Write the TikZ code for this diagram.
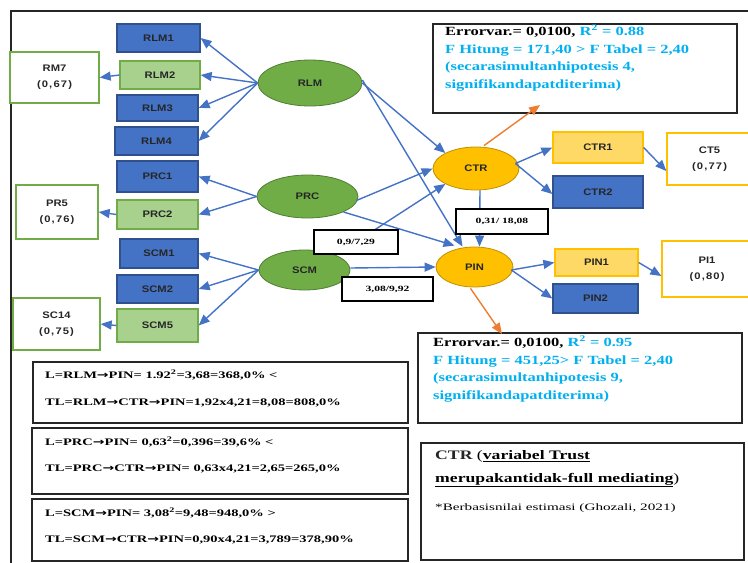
\documentclass[tikz,border=0pt]{standalone}
\usepackage{fontspec}
\setmainfont{Liberation Serif}
\newfontfamily\nodefont[FakeStretch=1.18]{Liberation Sans}
\newfontfamily\wideserif[FakeStretch=1.45]{Liberation Serif}
\newfontfamily\notefont[FakeStretch=1.55]{Liberation Serif}
\newfontfamily\errfont[FakeStretch=1.32]{Liberation Serif}
\newfontfamily\ctrfont[FakeStretch=1.36]{Liberation Serif}
\newfontfamily\arrowfont[FakeStretch=1.4]{DejaVu Sans}
\newcommand{\rar}{{\arrowfont\bfseries\fontsize{10}{10}\selectfont→}}
\usetikzlibrary{arrows.meta,shapes.geometric}
\definecolor{blu}{HTML}{4472C4}
\definecolor{bluedge}{HTML}{2F528F}
\definecolor{grnfill}{HTML}{A9D18E}
\definecolor{grnedge}{HTML}{70AD47}
\definecolor{ellgrn}{HTML}{70AD47}
\definecolor{ellgrnedge}{HTML}{507E32}
\definecolor{orfill}{HTML}{FFC000}
\definecolor{oredge}{HTML}{BF9000}
\definecolor{lorfill}{HTML}{FFD966}
\definecolor{orarrow}{HTML}{ED7D31}
\definecolor{cyantext}{HTML}{00B0F0}
\definecolor{darktext}{HTML}{262626}
\begin{document}
\begin{tikzpicture}[x=1pt,y=-1pt,
  lbl/.style={font=\nodefont\bfseries\fontsize{9.5}{11}\selectfont, text=darktext},
  bluebox/.style={draw=bluedge, line width=1.3pt, fill=blu, lbl, inner sep=0pt},
  grnbox/.style={draw=grnedge, line width=1.3pt, fill=grnfill, lbl, inner sep=0pt},
  orbox/.style={draw=orfill, line width=1.3pt, fill=lorfill, lbl, inner sep=0pt},
  gwbox/.style={draw=grnedge, line width=1.3pt, fill=white, lbl, inner sep=0pt, align=center},
  owbox/.style={draw=orfill, line width=1.3pt, fill=white, lbl, inner sep=0pt, align=center},
  gell/.style={ellipse, draw=ellgrnedge, line width=0.8pt, fill=ellgrn, lbl, inner sep=0pt},
  oell/.style={ellipse, draw=oredge, line width=0.8pt, fill=orfill, lbl, inner sep=0pt},
  frame/.style={draw=black!85, line width=1.4pt, fill=white, inner sep=0pt},
  coef/.style={draw=black, line width=1.3pt, fill=white, inner sep=0pt, font=\wideserif\bfseries\fontsize{8}{9}\selectfont},
  arr/.style={draw=blu, line width=1.4pt, -{Triangle[length=11pt,width=9pt]}},
  oarr/.style={draw=orarrow, line width=1.4pt, -{Triangle[length=11pt,width=9pt]}},
  etxt/.style={anchor=north west, align=left, inner sep=0pt, font=\errfont\bfseries\fontsize{12.5}{17.8}\selectfont},
  ltxt/.style={anchor=west, inner sep=0pt, font=\wideserif\bfseries\fontsize{10}{11}\selectfont}
]
\useasboundingbox (0,0) rectangle (748,563);
% outer frame
\coordinate (ftop) at (748,11);
\coordinate (fcorner) at (11,11);
\coordinate (fbot) at (11,566);
\draw[black!85, line width=1.5pt] (ftop) -- (fcorner) -- (fbot);

% indicator boxes
\node[bluebox, minimum width=83, minimum height=28] (rlm1) at (158.5,38) {RLM1};
\node[grnbox,  minimum width=80, minimum height=28] (rlm2) at (160,75) {RLM2};
\node[bluebox, minimum width=81, minimum height=26] (rlm3) at (157.5,108) {RLM3};
\node[bluebox, minimum width=83, minimum height=28] (rlm4) at (156.5,141) {RLM4};
\node[bluebox, minimum width=81, minimum height=31] (prc1) at (157.5,176.5) {PRC1};
\node[grnbox,  minimum width=81, minimum height=29] (prc2) at (157.5,214.5) {PRC2};
\node[bluebox, minimum width=78, minimum height=29] (scm1) at (159,253.5) {SCM1};
\node[bluebox, minimum width=81, minimum height=28] (scm2) at (157.5,289) {SCM2};
\node[grnbox,  minimum width=81, minimum height=33] (scm5) at (157.5,325.5) {SCM5};

\node[gwbox, minimum width=89, minimum height=51] (rm7) at (54.5,77.5) {RM7\\[5pt]\addfontfeature{LetterSpace=12}(0,67)};
\node[gwbox, minimum width=82, minimum height=54] (pr5) at (57,212) {PR5\\[5pt]\addfontfeature{LetterSpace=12}(0,76)};
\node[gwbox, minimum width=87, minimum height=52] (sc14) at (56.5,324) {SC14\\[5pt]\addfontfeature{LetterSpace=12}(0,75)};

% latent variables
\node[gell, minimum width=104, minimum height=46] (rlm) at (310,83) {RLM};
\node[gell, minimum width=101, minimum height=43] (prc) at (307.5,196.5) {PRC};
\node[gell, minimum width=91, minimum height=40] (scm) at (304.5,270) {SCM};
\node[oell, minimum width=86, minimum height=43] (ctr) at (476,168.5) {CTR};
\node[oell, minimum width=77, minimum height=40] (pin) at (474.5,267) {PIN};

% right indicators
\node[orbox, minimum width=90, minimum height=31] (ctr1) at (598,147.5) {CTR1};
\node[bluebox, minimum width=90, minimum height=32] (ctr2) at (598,192) {CTR2};
\node[orbox, minimum width=83, minimum height=27] (pin1) at (596.5,262.5) {PIN1};
\node[bluebox, minimum width=85, minimum height=29] (pin2) at (595.5,298.5) {PIN2};
\node[owbox, minimum width=85, minimum height=52] (ct5) at (709.5,159) {CT5\\[5pt]\addfontfeature{LetterSpace=12}(0,77)};
\node[owbox, minimum width=90, minimum height=56] (pi1) at (707,269) {PI1\\[5pt]\addfontfeature{LetterSpace=12}(0,80)};

% arrows left side
\draw[arr] (rlm.west) -- (rlm1.east);
\draw[arr] (rlm.west) -- (rlm2.east);
\draw[arr] (rlm.west) -- (rlm3.east);
\draw[arr] (rlm.west) -- (rlm4.east);
\draw[arr] (rlm2.west) -- (rm7.east);
\draw[arr] (prc.west) -- (prc1.east);
\draw[arr] (prc.west) -- (prc2.east);
\draw[arr] (prc2.west) -- (pr5.east);
\draw[arr] (scm.west) -- (scm1.east);
\draw[arr] (scm.west) -- (scm2.east);
\draw[arr] (scm.west) -- (scm5.east);
\draw[arr] (scm5.west) -- (sc14.east);

% structural arrows
\draw[arr] (rlm.east) -- (ctr.north west);
\draw[arr] ([yshift=3pt]rlm.east) -- ([xshift=-12pt]pin.north);
\draw[arr] ([xshift=-2pt,yshift=-4pt]prc.east) -- (ctr.west);
\draw[arr] (prc.south east) -- ([xshift=-20pt,yshift=1pt]pin.north);
\draw[arr] ([xshift=-2pt]scm.north east) -- (ctr.south west);
\draw[arr] ([yshift=2pt]scm.east) -- (pin.west);
\draw[arr] ([xshift=4pt]ctr.south) -- ([xshift=5pt]pin.north);

% right arrows
\draw[arr] ([xshift=-4pt,yshift=5pt]ctr.east) -- (ctr1.west);
\draw[arr] ([xshift=-4pt,yshift=5pt]ctr.east) -- ([yshift=-2pt]ctr2.west);
\draw[arr] (ctr1.east) -- ([yshift=-12pt]ct5.west);
\draw[arr] ([xshift=-2pt,yshift=-3pt]pin.east) -- (pin1.west);
\draw[arr] ([xshift=-2pt,yshift=-3pt]pin.east) -- (pin2.west);
\draw[arr] (pin1.east) -- ([yshift=-7pt]pi1.west);

% coefficient labels
\node[coef, minimum width=84, minimum height=24] (c1) at (356,242) {0,9/7,29};
\node[coef, minimum width=91, minimum height=24] (c2) at (387.5,289) {3,08/9,92};
\node[coef, minimum width=92, minimum height=25] (c3) at (502,221.5) {0,31/ 18,08};

% error boxes
\node[frame, minimum width=304, minimum height=89] (err1) at (585,68.5) {};
\node[etxt] (err1t) at (445,25) {Errorvar.= 0,0100, \textcolor{cyantext}{R\textsuperscript{2} = 0.88}\\
\textcolor{cyantext}{F Hitung = 171,40 > F Tabel = 2,40}\\
\textcolor{cyantext}{(secarasimultanhipotesis 4,}\\
\textcolor{cyantext}{signifikandapatditerima)}};
\node[frame, minimum width=324, minimum height=90] (err2) at (580,378) {};
\node[etxt] (err2t) at (433,336) {Errorvar.= 0,0100, \textcolor{cyantext}{R\textsuperscript{2} = 0.95}\\
\textcolor{cyantext}{F Hitung = 451,25> F Tabel = 2,40}\\
\textcolor{cyantext}{(secarasimultanhipotesis 9,}\\
\textcolor{cyantext}{signifikandapatditerima)}};
\coordinate (e1tip) at (540,105);
\coordinate (e2tip) at (502,334);
\draw[oarr] ([xshift=8pt,yshift=1pt]ctr.north) -- (e1tip);
\draw[oarr] ([xshift=-4pt,yshift=-1pt]pin.south) -- (e2tip);

% note box
\node[frame, minimum width=323, minimum height=117] (note) at (582.5,501.5) {};
\node[etxt, font=\ctrfont\bfseries\fontsize{13}{23}\selectfont] (notet) at (435,450) {\textcolor{darktext}{CTR} \mdseries(\bfseries\underline{variabel Trust}\\
\underline{merupakantidak-full mediating}\mdseries)};
\node[anchor=west, inner sep=0pt, font=\notefont\fontsize{9.8}{11}\selectfont] (notes) at (435,508) {*Berbasisnilai estimasi (Ghozali, 2021)};

% bottom-left boxes
\node[frame, minimum width=375, minimum height=61] (b1) at (220.5,392.5) {};
\node[ltxt] (b1a) at (45,375) {L=RLM\rar PIN= 1.92\textsuperscript{2}=3,68=368,0\% <};
\node[ltxt] (b1b) at (45,403) {TL=RLM\rar CTR\rar PIN=1,92x4,21=8,08=808,0\%};
\node[frame, minimum width=376, minimum height=66] (b2) at (220,461) {};
\node[ltxt] (b2a) at (45,442) {L=PRC\rar PIN= 0,63\textsuperscript{2}=0,396=39,6\% <};
\node[ltxt] (b2b) at (45,469) {TL=PRC\rar CTR\rar PIN= 0,63x4,21=2,65=265,0\%};
\node[frame, minimum width=376, minimum height=62] (b3) at (220,530) {};
\node[ltxt] (b3a) at (45,513) {L=SCM\rar PIN= 3,08\textsuperscript{2}=9,48=948,0\% >};
\node[ltxt] (b3b) at (45,540) {TL=SCM\rar CTR\rar PIN=0,90x4,21=3,789=378,90\%};
\end{tikzpicture}
\end{document}
